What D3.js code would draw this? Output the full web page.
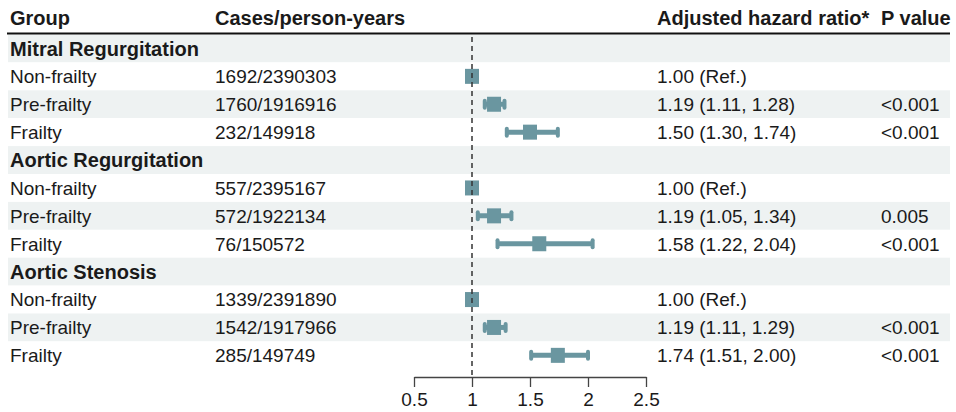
<!DOCTYPE html>
<html>
<head>
<meta charset="utf-8">
<script src="https://cdn.jsdelivr.net/npm/d3@7"></script>
<style>
  body { margin: 0; background: #fff; }
  text { font-family: "Liberation Sans", Arial, sans-serif; fill: #1a1a1a; }
</style>
</head>
<body>
<script>
var canvasWidth = 956;
var canvasHeight = 412;

// data
var groups = ["Mitral Regurgitation", "Aortic Regurgitation", "Aortic Stenosis"];
var subgroups = ["Non-frailty", "Pre-frailty", "Frailty"];
var cases = ["1692/2390303", "1760/1916916", "232/149918",
             "557/2395167", "572/1922134", "76/150572",
             "1339/2391890", "1542/1917966", "285/149749"];
var hr = [1.00, 1.19, 1.50, 1.00, 1.19, 1.58, 1.00, 1.19, 1.74];
var lower = [null, 1.11, 1.30, null, 1.05, 1.22, null, 1.11, 1.51];
var upper = [null, 1.28, 1.74, null, 1.34, 2.04, null, 1.29, 2.00];
var hrText = ["1.00 (Ref.)", "1.19 (1.11, 1.28)", "1.50 (1.30, 1.74)",
              "1.00 (Ref.)", "1.19 (1.05, 1.34)", "1.58 (1.22, 2.04)",
              "1.00 (Ref.)", "1.19 (1.11, 1.29)", "1.74 (1.51, 2.00)"];
var pText = ["", "<0.001", "<0.001", "", "0.005", "<0.001", "", "<0.001", "<0.001"];
var headers = ["Group", "Cases/person-years", "Adjusted hazard ratio*", "P value"];
var xTicks = [0.5, 1, 1.5, 2, 2.5];

var color = "#6a96a0";
var shade = "#eef2f2";

// build the row table: group header row followed by its subgroups
var rows = [];
groups.forEach(function(g, gi) {
    rows.push({ label: g, bold: true });
    subgroups.forEach(function(s, si) {
        var k = gi * 3 + si;
        rows.push({ label: s, cases: cases[k], hr: hr[k], lo: lower[k], hi: upper[k],
                    hrText: hrText[k], p: pText[k] });
    });
});

var svg = d3.select("body").append("svg")
    .attr("width", canvasWidth)
    .attr("height", canvasHeight);

var rowTop = 34.5, rowH = 27.9;
var colX = [10, 215, 657, 881];
var fs = "19px", fsBold = "20px";

var yScale = d3.scaleBand()
    .domain(d3.range(rows.length))
    .range([rowTop, rowTop + rowH * rows.length]);

var xScale = d3.scaleLinear().domain([0.5, 2.5]).range([414, 646]);

// zebra background
svg.selectAll("rect.band")
    .data(rows)
    .enter().append("rect")
    .attr("class", "band")
    .attr("x", 8)
    .attr("width", 942)
    .attr("y", function(d, i) { return yScale(i); })
    .attr("height", yScale.bandwidth())
    .attr("fill", function(d, i) { return i % 2 == 0 ? shade : "#fff"; });

// header
svg.selectAll("text.head")
    .data(headers)
    .enter().append("text")
    .attr("class", "head")
    .attr("x", function(d, i) { return colX[i]; })
    .attr("y", 25)
    .attr("font-size", fsBold)
    .attr("font-weight", "bold")
    .text(function(d) { return d; });

svg.append("line")
    .attr("x1", 7).attr("x2", 950)
    .attr("y1", 33.5).attr("y2", 33.5)
    .attr("stroke", "#111")
    .attr("stroke-width", 2);

// text columns
var rowG = svg.selectAll("g.row")
    .data(rows)
    .enter().append("g")
    .attr("class", "row")
    .attr("transform", function(d, i) { return "translate(0," + (yScale(i) + yScale.bandwidth() / 2) + ")"; });

rowG.append("text")
    .attr("x", colX[0])
    .attr("dy", "0.36em")
    .attr("font-size", function(d) { return d.bold ? fsBold : fs; })
    .attr("font-weight", function(d) { return d.bold ? "bold" : "normal"; })
    .text(function(d) { return d.label; });

rowG.append("text")
    .attr("x", colX[1])
    .attr("dy", "0.36em")
    .attr("font-size", fs)
    .text(function(d) { return d.cases || ""; });

rowG.append("text")
    .attr("x", colX[2])
    .attr("dy", "0.36em")
    .attr("font-size", fs)
    .text(function(d) { return d.hrText || ""; });

rowG.append("text")
    .attr("x", colX[3])
    .attr("dy", "0.36em")
    .attr("font-size", fs)
    .text(function(d) { return d.p || ""; });

// reference line at 1
var axisY = 377;
svg.append("line")
    .attr("x1", xScale(1)).attr("x2", xScale(1))
    .attr("y1", 37).attr("y2", axisY)
    .attr("stroke", "#333")
    .attr("stroke-width", 1.5)
    .attr("stroke-dasharray", "5,4");

// confidence intervals
var est = rowG.filter(function(d) { return d.hr != null; });

est.filter(function(d) { return d.lo != null; })
    .append("line")
    .attr("x1", function(d) { return xScale(d.lo); })
    .attr("x2", function(d) { return xScale(d.hi); })
    .attr("stroke", color)
    .attr("stroke-width", 5);

est.filter(function(d) { return d.lo != null; })
    .selectAll("line.cap")
    .data(function(d) { return [d.lo, d.hi]; })
    .enter().append("line")
    .attr("class", "cap")
    .attr("x1", function(d) { return xScale(d); })
    .attr("x2", function(d) { return xScale(d); })
    .attr("y1", -3.5).attr("y2", 3.5)
    .attr("stroke", color)
    .attr("stroke-width", 4)
    .attr("stroke-linecap", "round");

est.append("rect")
    .attr("x", function(d) { return xScale(d.hr) - 7; })
    .attr("y", -7.5)
    .attr("width", 14)
    .attr("height", 15)
    .attr("fill", color);

// x axis
var axis = svg.append("g")
    .attr("transform", "translate(0," + axisY + ")")
    .call(d3.axisBottom(xScale).tickValues(xTicks).tickFormat(d3.format("")).tickSize(10).tickSizeOuter(0));

axis.select(".domain").attr("stroke", "#444").attr("stroke-width", 1.3);
axis.selectAll(".tick line").attr("stroke", "#444").attr("stroke-width", 1.3);
axis.selectAll(".tick text")
    .attr("font-size", fs)
    .attr("font-family", "Liberation Sans, Arial, sans-serif")
    .attr("fill", "#1a1a1a")
    .attr("dy", "0.85em");
</script>
</body>
</html>
